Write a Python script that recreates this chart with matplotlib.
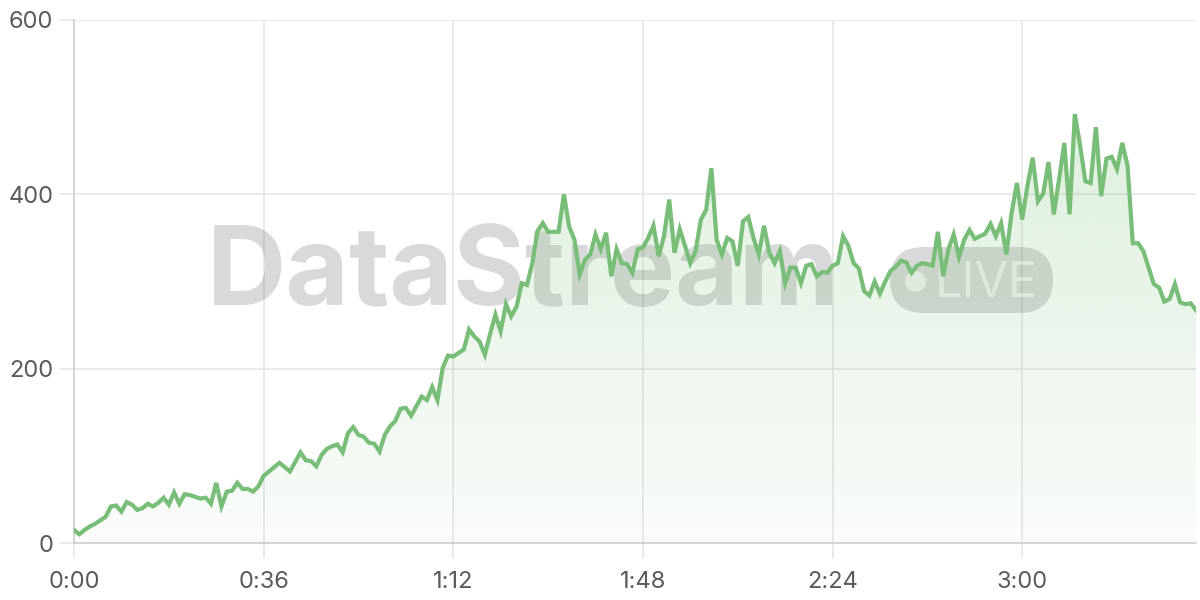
import matplotlib
matplotlib.use("Agg")
import matplotlib.pyplot as plt
import numpy as np
from matplotlib.patches import FancyBboxPatch
from matplotlib.ticker import FuncFormatter, MultipleLocator

# ---- data (minutes since start, one reading per minute) ----
values = [
    15, 10, 15, 19, 22, 26, 30, 42, 43, 36, 47, 44, 38, 40, 45, 42, 46, 52, 44, 58,
    45, 56, 55, 53, 51, 52, 45, 69, 42, 59, 60, 69, 62, 62, 59, 65, 77, 82, 87, 92,
    87, 82, 93, 104, 95, 94, 88, 101, 108, 111, 113, 104, 126, 133, 124, 122, 115, 114, 105, 124,
    134, 140, 154, 155, 146, 157, 168, 164, 179, 164, 201, 215, 214, 218, 222, 245, 237, 231, 216, 240,
    262, 243, 274, 260, 271, 298, 296, 321, 358, 367, 357, 357, 357, 400, 363, 348, 308, 325, 331, 354,
    337, 356, 306, 337, 321, 320, 310, 337, 339, 350, 364, 329, 352, 394, 333, 360, 341, 321, 335, 371,
    382, 430, 348, 331, 350, 346, 318, 369, 374, 350, 331, 364, 333, 321, 335, 298, 316, 316, 298, 318,
    320, 306, 311, 310, 318, 321, 352, 341, 321, 315, 289, 284, 300, 286, 300, 312, 317, 324, 322, 310,
    318, 321, 320, 318, 357, 306, 337, 354, 328, 348, 359, 349, 352, 355, 366, 352, 367, 331, 379, 413,
    371, 410, 442, 392, 401, 437, 377, 417, 459, 377, 492, 456, 415, 413, 477, 398, 441, 443, 429, 459,
    433, 344, 344, 335, 316, 297, 293, 277, 280, 297, 276, 274, 275, 267,
]
minutes = list(range(len(values)))
y_ticks = [0, 200, 400, 600]
x_tick_step = 36
watermark_text = "DataStream"
badge_text = "LIVE"

LINE = "#78be78"
GRID = "#e6e6e6"
SPINE = "#d2d2d2"
TXT = "#5a5a5a"

plt.rcParams["font.family"] = ["Inter", "DejaVu Sans"]

fig = plt.figure(figsize=(12, 6), dpi=100)
ax = fig.add_axes([74 / 1200, 1 - 543 / 600, (1196 - 74) / 1200, (543 - 20) / 600])

x = np.array(minutes)
y = np.array(values)

# gradient fill under the line
poly = ax.fill_between(x, y, 0, facecolor="none", edgecolor="none", zorder=3)
grad = np.linspace(0.04, 0.25, 256)
rgba = np.zeros((256, 1, 4))
rgba[..., 0] = 120 / 255
rgba[..., 1] = 190 / 255
rgba[..., 2] = 120 / 255
rgba[:, 0, 3] = grad
im = ax.imshow(rgba, extent=[x.min(), x.max(), 0, 500], origin="lower",
               aspect="auto", zorder=3, interpolation="bilinear")
path = poly.get_paths()[0]
im.set_clip_path(path, transform=ax.transData)

ax.plot(x, y, color=LINE, lw=3.0, solid_joinstyle="miter", zorder=4)

ax.set_xlim(0, x.max())
ax.set_ylim(0, 600)
ax.set_yticks(y_ticks)
ax.xaxis.set_major_locator(MultipleLocator(x_tick_step))
ax.xaxis.set_major_formatter(FuncFormatter(lambda v, p: f"{int(v) // 60}:{int(v) % 60:02d}"))

ax.grid(True, color=GRID, lw=1.2, zorder=0)
ax.set_axisbelow(True)
for s in ["top", "right"]:
    ax.spines[s].set_visible(False)
ax.spines["left"].set_color(SPINE)
ax.spines["bottom"].set_color(SPINE)
ax.spines["left"].set_linewidth(1.3)
ax.spines["bottom"].set_linewidth(1.3)
ax.tick_params(axis="both", length=11, width=1.2, color=GRID, labelcolor=TXT, labelsize=17)
ax.tick_params(axis="y", pad=4)
ax.tick_params(axis="x", pad=9)

# watermark (inside the axes, under the fill and line)
ft = fig.transFigure
ax.text(207 / 1200, 1 - 305 / 600, watermark_text, transform=ft, fontsize=79,
        fontweight="bold", color="black", alpha=0.15, ha="left", va="baseline",
        zorder=2, clip_on=False)
pill = FancyBboxPatch((890 / 1200, 1 - 313 / 600), (1053 - 890) / 1200, 66 / 600,
                      boxstyle="round,pad=0,rounding_size=0.028", transform=ft,
                      facecolor="black", alpha=0.15, edgecolor="none", zorder=2,
                      mutation_aspect=2, clip_on=False)
ax.add_artist(pill)
ax.plot([915 / 1200], [1 - 281 / 600], marker="o", ms=15, mew=0, color="white",
        alpha=0.7, transform=ft, zorder=2.1, clip_on=False, linestyle="none")
ax.text(935 / 1200, 1 - 297 / 600, badge_text, transform=ft, fontsize=35,
        color="white", alpha=0.65, ha="left", va="baseline", zorder=2.1, clip_on=False)

fig.savefig("out.png", dpi=100)
